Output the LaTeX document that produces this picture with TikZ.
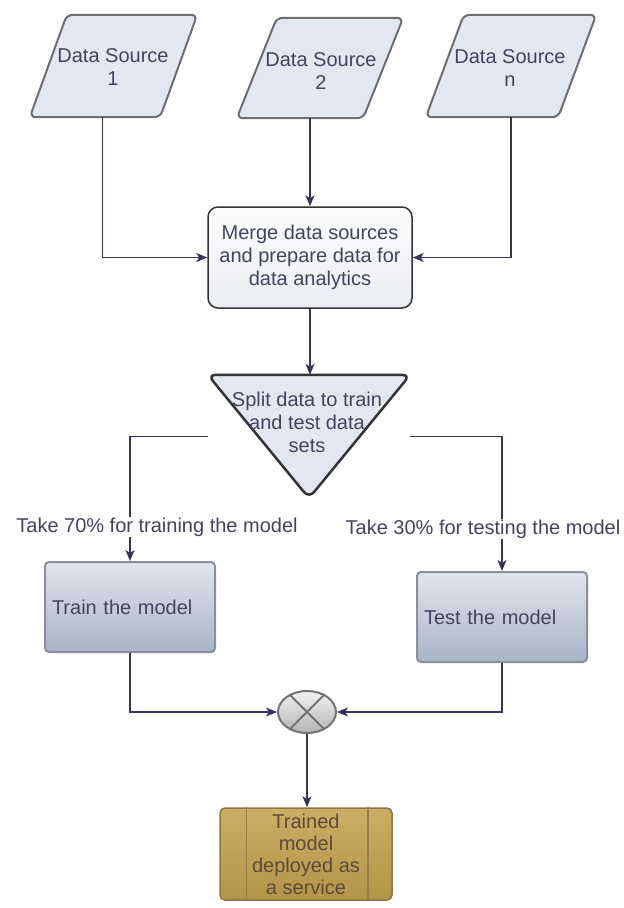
\documentclass[tikz,border=0pt]{standalone}
\usepackage{fontspec}
\setmainfont{Liberation Sans}
\usetikzlibrary{shapes.geometric,arrows.meta,calc}
\definecolor{txtc}{HTML}{43435F}
\definecolor{linec}{HTML}{34345C}
\definecolor{parafill}{HTML}{E3E8F0}
\definecolor{paradraw}{HTML}{6E6E72}
\definecolor{boxtop}{HTML}{E1E5ED}
\definecolor{boxbot}{HTML}{A8B4C8}
\definecolor{boxdraw}{HTML}{8A8F9A}
\definecolor{goldtop}{HTML}{CBAE66}
\definecolor{goldbot}{HTML}{B39447}
\definecolor{golddraw}{HTML}{8C7642}
\definecolor{goldtxt}{HTML}{5B4D3A}
\begin{document}
\begin{tikzpicture}[x=1pt,y=-1pt,
  font=\fontsize{20}{23}\selectfont,
  frame/.style={draw=none,fill=none,inner sep=0pt},
  para/.style={fill=parafill,draw=paradraw,line width=2pt,rounded corners=6pt},
  txt/.style={text=txtc,align=center,inner sep=0pt},
  arr/.style={draw=linec,line width=1.5pt,-{Stealth[length=11pt,width=9pt,inset=3pt]}},
  plain/.style={draw=linec,line width=1.5pt},
  procbox/.style={rounded corners=4pt,top color=boxtop,bottom color=boxbot,draw=boxdraw,line width=2pt,
    minimum width=170pt,minimum height=90pt,inner xsep=7pt,text width=156pt,align=left,text=txtc},
  lbl/.style={fill=white,inner sep=1pt,text=txtc}
]
\fill[white] (0,0) rectangle (624,908);

% data sources
\node[frame,minimum width=167pt,minimum height=102pt] (ds1) at (113.5,66) {};
\path[para] (ds1.south west) -- ([xshift=-37pt]ds1.south east) -- (ds1.north east) -- ([xshift=37pt]ds1.north west) -- cycle;
\node[txt] (ds1t) at (113,67.5) {Data Source\\1};

\node[frame,minimum width=166pt,minimum height=100pt] (ds2) at (320,68) {};
\path[para] (ds2.south west) -- ([xshift=-40pt]ds2.south east) -- (ds2.north east) -- ([xshift=40pt]ds2.north west) -- cycle;
\node[txt] (ds2t) at (321,71) {Data Source\\2};

\node[frame,minimum width=170pt,minimum height=102pt] (dsn) at (511,66) {};
\path[para] (dsn.south west) -- ([xshift=-38pt]dsn.south east) -- (dsn.north east) -- ([xshift=38pt]dsn.north west) -- cycle;
\node[txt] (dsnt) at (510,68) {Data Source\\n};

% merge
\node[rounded corners=10pt,top color=white!92!boxtop,bottom color=boxtop!70!white,draw=black!80,line width=1.5pt,
  minimum width=204pt,minimum height=101pt,txt] (merge) at (310,257.5)
  {Merge data sources\\and prepare data for\\data analytics};

% split triangle
\node[frame,minimum width=202pt,minimum height=123pt] (split) at (309,436.5) {};
\path[fill=parafill!90!boxtop,draw=black!80,line width=2.5pt,rounded corners=8pt]
  (split.north west) -- (split.north east) -- (split.south) -- cycle;
\node[txt] (splitt) at (307,422.5) {Split data to train\\and test data\\sets};

% train / test
\node[procbox] (train) at (130,607) {Train the model};
\node[procbox] (test) at (502,617) {Test the model};

% junction
\node[ellipse,minimum width=58pt,minimum height=42pt,top color=white!95!black,bottom color=black!30,
  draw=black!55,line width=2pt,inner sep=0pt] (xm) at (307,712) {};
\draw[black!55,line width=2pt] (xm.45) -- (xm.225) (xm.135) -- (xm.315);

% final
\node[rounded corners=5pt,top color=goldtop,bottom color=goldbot,draw=golddraw,line width=1.5pt,
  minimum width=172pt,minimum height=92pt,text=goldtxt,align=center,inner sep=0pt,
  font=\fontsize{20}{22}\selectfont] (final) at (306,854)
  {Trained\\model\\deployed as\\a service};
\draw[golddraw!85!goldtop,line width=1.5pt] ([xshift=27pt]final.north west) -- ([xshift=27pt]final.south west);
\draw[golddraw!85!goldtop,line width=1.5pt] ([xshift=-25pt]final.north east) -- ([xshift=-25pt]final.south east);

% connectors
\draw[arr] (merge.north |- ds2.south) -- (merge.north);
\draw[arr] ([xshift=-11pt]ds1.south) |- (merge.west);
\draw[arr] (dsn.south) |- (merge.east);
\draw[arr] (merge.south) -- (merge.south |- split.north);
\draw[arr] (split.west) -| (train.north);
\draw[arr] (split.east) -| (test.north);
\draw[arr] (train.south) |- (xm.west);
\draw[arr] (test.south) |- (xm.east);
\draw[arr] (xm.south) -- (xm.south |- final.north);

% labels
\node[lbl] (l70) at (157,527) {Take 70\% for training the model};
\node[lbl] (l30) at (483,529) {Take 30\% for testing the model};
\end{tikzpicture}
\end{document}
